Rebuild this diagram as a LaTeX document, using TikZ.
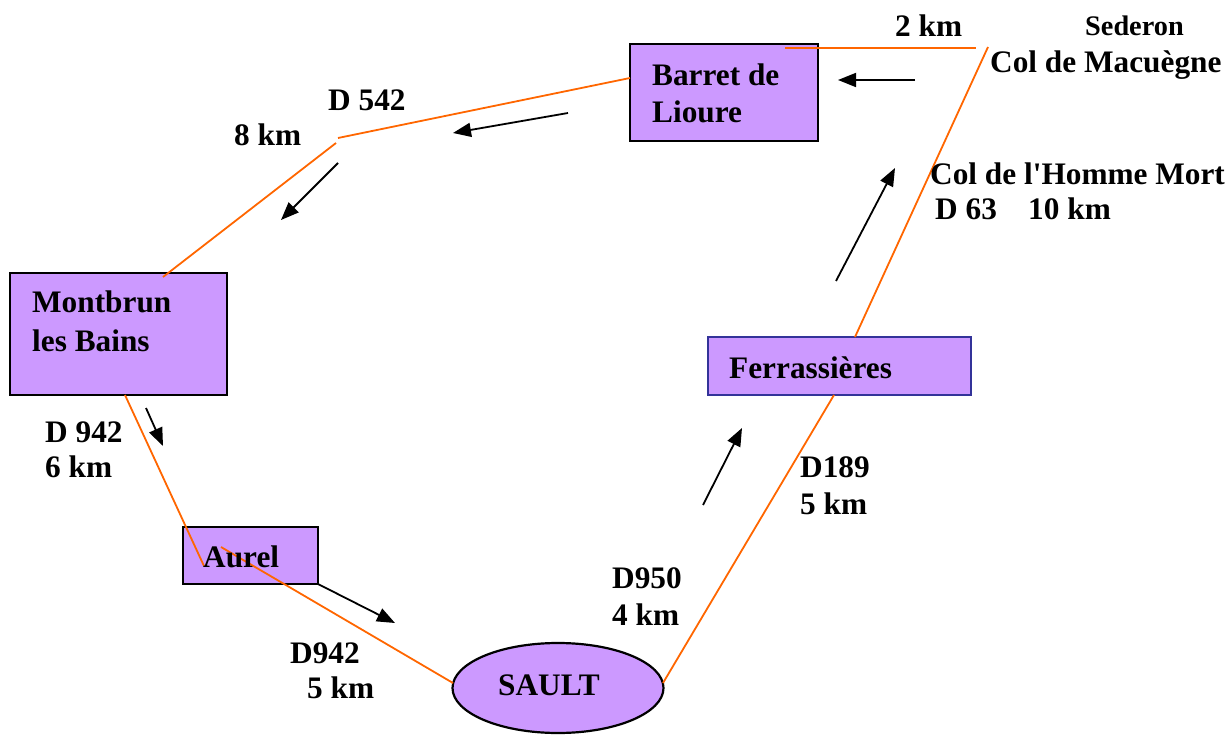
\documentclass[tikz,border=0pt]{standalone}
\usepackage{fontspec}
\setmainfont{Liberation Serif}
\usetikzlibrary{arrows.meta,shapes.geometric}
\definecolor{lilac}{HTML}{CC99FF}
\definecolor{road}{HTML}{FF6600}
\definecolor{navy}{HTML}{333399}
\begin{document}
\begin{tikzpicture}[x=1pt,y=-1pt,
  town/.style={draw=black,fill=lilac,line width=2.2pt,inner sep=0pt,rectangle},
  txt/.style={anchor=base west,inner sep=0pt,font=\fontsize{31.3}{37}\selectfont\bfseries},
  small/.style={anchor=base west,inner sep=0pt,font=\fontsize{28.3}{33}\selectfont\bfseries},
  roadline/.style={draw=road,line width=1.8pt},
  dir/.style={draw=black,line width=1.8pt,-{Triangle[length=18pt,width=14pt]}}]
\useasboundingbox (0,0) rectangle (1232,735);
% boxes
\node[town,minimum width=188pt,minimum height=97pt] (barret) at (724,92.5) {};
\node[town,minimum width=217pt,minimum height=122pt] (montbrun) at (118.5,334) {};
\node[town,draw=navy,minimum width=263pt,minimum height=58pt] (ferr) at (839.5,366) {};
\node[town,minimum width=135pt,minimum height=57pt] (aurel) at (250.5,555.5) {};
\node[town,ellipse,minimum width=211pt,minimum height=90pt] (sault) at (558,688) {};
% road endpoints
\coordinate (r1a) at (785,48);  \coordinate (r1b) at (976,48);
\coordinate (r2a) at (988,47);  \coordinate (r2b) at (855,337);
\coordinate (r3a) at (834,395); \coordinate (r3b) at (663,683);
\coordinate (r4a) at (453,683); \coordinate (r4b) at (221,547);
\coordinate (r5a) at (204,566); \coordinate (r5b) at (125,395);
\coordinate (r6a) at (163,277); \coordinate (r6b) at (336,143);
\coordinate (r7a) at (338,138); \coordinate (r7b) at (630,78);
\draw[roadline] (r1a) -- (r1b);
\draw[roadline] (r2a) -- (r2b);
\draw[roadline] (r3a) -- (r3b);
\draw[roadline] (r4a) -- (r4b);
\draw[roadline] (r5a) -- (r5b);
\draw[roadline] (r6a) -- (r6b);
\draw[roadline] (r7a) -- (r7b);
% direction arrows
\coordinate (a1) at (915,80);  \coordinate (a1h) at (838,80);
\coordinate (a2) at (568,113); \coordinate (a2h) at (453,133);
\coordinate (a3) at (338,163); \coordinate (a3h) at (281,220);
\coordinate (a4) at (146,408); \coordinate (a4h) at (163,446);
\coordinate (a5) at (318,584); \coordinate (a5h) at (395,623);
\coordinate (a6) at (703,505); \coordinate (a6h) at (742,428);
\coordinate (a7) at (836,281); \coordinate (a7h) at (895,168);
\draw[dir] (a1) -- (a1h);
\draw[dir] (a2) -- (a2h);
\draw[dir] (a3) -- (a3h);
\draw[dir] (a4) -- (a4h);
\draw[dir] (a5) -- (a5h);
\draw[dir] (a6) -- (a6h);
\draw[dir] (a7) -- (a7h);
% texts
\node[txt] (t2km) at (895,37) {2 km};
\node[small] (tsed) at (1085,36) {Sederon};
\node[txt] (tmac) at (990,73) {Col de Macuègne};
\node[txt] (tbar1) at (652,86) {Barret de};
\node[txt] (tbar2) at (652,123) {Lioure};
\node[txt] (td542) at (328,111) {D 542};
\node[txt] (t8km) at (234,146) {8 km};
\node[txt] (thom) at (930,185) {Col de l\textquotesingle Homme Mort};
\node[txt] (td63) at (935,220) {D 63\ \ \ \ 10 km};
\node[txt] (tmon1) at (32,313) {Montbrun};
\node[txt] (tmon2) at (32,352) {les Bains};
\node[txt] (tferr) at (729,378) {Ferrassières};
\node[txt] (td942a) at (45,442) {D 942};
\node[txt] (t6km) at (45,477) {6 km};
\node[txt] (td189) at (800,477) {D189};
\node[txt] (t5kma) at (800,514) {5 km};
\node[txt] (taur) at (203,567) {Aurel};
\node[txt] (td950) at (612,588) {D950};
\node[txt] (t4km) at (612,625) {4 km};
\node[txt] (td942b) at (290,663) {D942};
\node[txt] (t5kmb) at (307,698) {5 km};
\node[txt] (tsault) at (498,695) {SAULT};
\end{tikzpicture}
\end{document}
